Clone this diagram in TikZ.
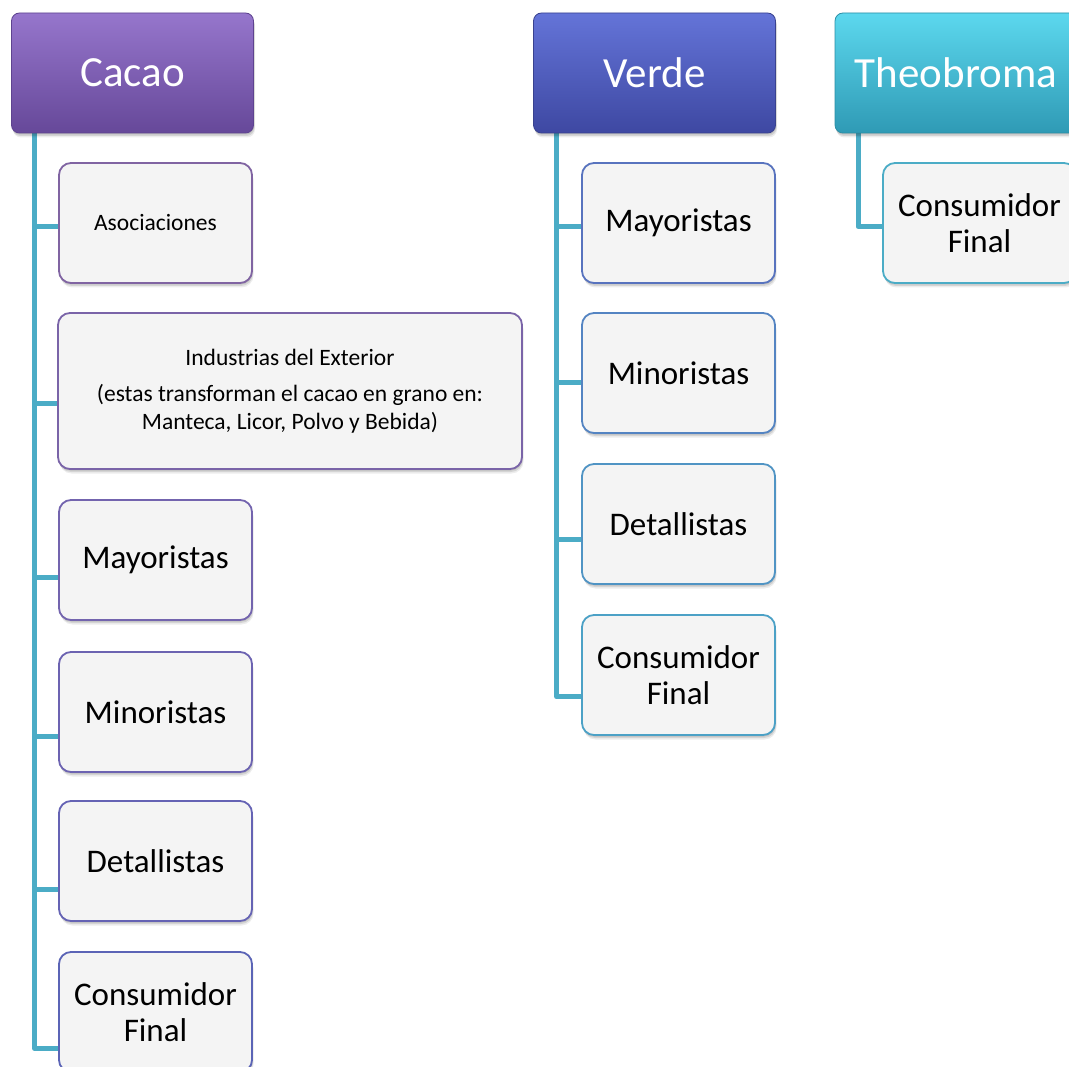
\documentclass[tikz,border=0pt]{standalone}
\usepackage{fontspec}
\setmainfont{Carlito}
\usetikzlibrary{calc,shadows}

% header fills (top, middle, bottom, edge)
\definecolor{cacaoT}{HTML}{9676CC}
\definecolor{cacaoM}{HTML}{7756AB}
\definecolor{cacaoB}{HTML}{664899}
\definecolor{cacaoE}{HTML}{5E4390}
\definecolor{verdeT}{HTML}{6474D8}
\definecolor{verdeM}{HTML}{4C59BB}
\definecolor{verdeB}{HTML}{3E48A2}
\definecolor{verdeE}{HTML}{39428F}
\definecolor{theoT}{HTML}{5CD8EE}
\definecolor{theoM}{HTML}{3DB6D2}
\definecolor{theoB}{HTML}{2F9AB5}
\definecolor{theoE}{HTML}{2B8EA6}
% connectors and item boxes
\definecolor{linkc}{HTML}{4BACC6}
\definecolor{boxfill}{HTML}{F4F4F4}
\definecolor{edgeA}{HTML}{8064A2}
\definecolor{edgeB}{HTML}{7A64A8}
\definecolor{edgeC}{HTML}{7364AE}
\definecolor{edgeD}{HTML}{6C63B1}
\definecolor{edgeE}{HTML}{6563B4}
\definecolor{edgeF}{HTML}{5B64B6}
\definecolor{edgeG}{HTML}{5873BE}
\definecolor{edgeH}{HTML}{5484C2}
\definecolor{edgeI}{HTML}{5094C4}
\definecolor{edgeJ}{HTML}{4CA1C6}
\definecolor{edgeK}{HTML}{4BACC6}

\pgfdeclarelayer{background}
\pgfsetlayers{background,main}

\begin{document}
\begin{tikzpicture}[x=1pt,y=-1pt,
  soft/.style={
    drop shadow={shadow xshift=0.5pt, shadow yshift=-1.5pt, opacity=0.10, fill=black},
    drop shadow={shadow xshift=1pt, shadow yshift=-3pt, opacity=0.10, fill=black},
    drop shadow={shadow xshift=1.5pt, shadow yshift=-4.5pt, opacity=0.07, fill=black}},
  hdr/.style={soft, rounded corners=8pt, minimum width=242pt, minimum height=120pt,
    inner sep=0pt, text=white, font=\fontsize{43}{50}\selectfont,
    line width=0.8pt},
  item/.style={soft, rounded corners=12pt, fill=boxfill, line width=1.8pt,
    minimum width=193pt, minimum height=120pt, inner sep=0pt, align=center,
    font=\fontsize{33}{36}\selectfont},
  small/.style={font=\fontsize{23.5}{28}\selectfont},
  link/.style={draw=linkc, line width=5pt, line join=round}]

\begin{pgfonlayer}{background}
\fill[white] (0,0) rectangle (1069,1067);
\end{pgfonlayer}
\useasboundingbox (0,0) rectangle (1069,1067);

% fragment of a line of text above the top edge
\node (frag) [anchor=base, font=\fontsize{33}{36}\selectfont, inner sep=0pt] at (833,-5) {p};

% headers
\node[hdr, draw=cacaoE, top color=cacaoT, middle color=cacaoM, bottom color=cacaoB] (cacao) at (132.5,73) {Cacao};
\node[hdr, draw=verdeE, top color=verdeT, middle color=verdeM, bottom color=verdeB] (verde) at (654.5,73) {Verde};
\node[hdr, draw=theoE, top color=theoT, middle color=theoM, bottom color=theoB] (theo) at (956,73) {Theobroma};

% Cacao column
\node[item, small, draw=edgeA] (casoc) at (155.5,223) {Asociaciones};
\node[item, small, draw=edgeB, minimum width=464pt, minimum height=156pt] (cind) at (290,391)
  {Industrias del Exterior\\[8pt](estas transforman el cacao en grano en:\\Manteca, Licor, Polvo y Bebida)};
\node[item, draw=edgeC] (cmay) at (155.5,560) {Mayoristas};
\node[item, draw=edgeD] (cmin) at (155.5,712) {Minoristas};
\node[item, draw=edgeE] (cdet) at (155.5,861) {Detallistas};
\node[item, draw=edgeF] (ccon) at (155.5,1012) {Consumidor\\Final};

% Verde column
\node[item, draw=edgeG] (vmay) at (678.5,223) {Mayoristas};
\node[item, draw=edgeH] (vmin) at (678.5,373) {Minoristas};
\node[item, draw=edgeI] (vdet) at (678.5,524) {Detallistas};
\node[item, draw=edgeJ] (vcon) at (678.5,675) {Consumidor\\Final};

% Theobroma column
\node[item, draw=edgeK] (tcon) at (979.5,223) {Consumidor\\Final};

% connectors, kept underneath the boxes
\begin{pgfonlayer}{background}
\foreach \n/\f in {casoc/0.53, cind/0.577, cmay/0.64, cmin/0.70, cdet/0.73, ccon/0.80}
  \draw[link] ([xshift=23.5pt]cacao.south west) |- ($(\n.north west)!\f!(\n.south west)$);
\foreach \n/\f in {vmay/0.53, vmin/0.575, vdet/0.63, vcon/0.68}
  \draw[link] ([xshift=23.5pt]verde.south west) |- ($(\n.north west)!\f!(\n.south west)$);
\draw[link] ([xshift=23.5pt]theo.south west) |- ($(tcon.north west)!0.53!(tcon.south west)$);
\end{pgfonlayer}
\end{tikzpicture}
\end{document}
